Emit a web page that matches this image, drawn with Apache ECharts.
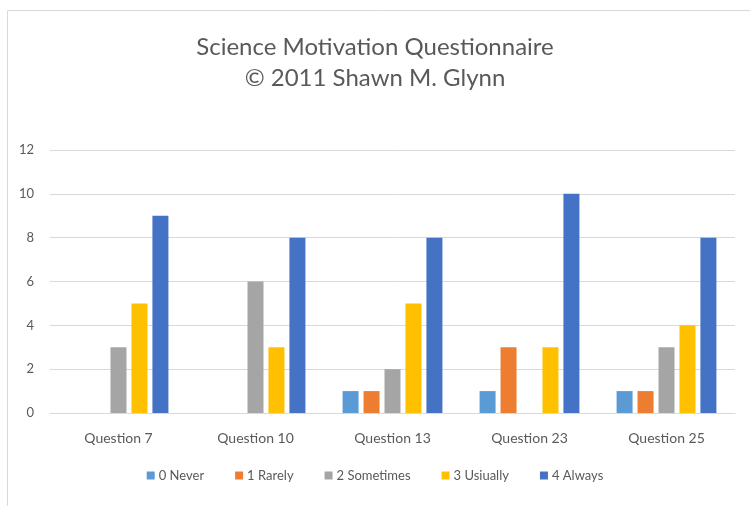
<!DOCTYPE html>
<html>
<head>
<meta charset="utf-8">
<script src="https://cdn.jsdelivr.net/npm/echarts@6/dist/echarts.min.js"></script>
<style>
html,body{margin:0;padding:0;background:#fff;}
#chart{width:750px;height:506px;}
</style>
</head>
<body>
<div id="chart"></div>
<script>
const categories = ['Question 7', 'Question 10', 'Question 13', 'Question 23', 'Question 25'];
const seriesNames = ['0 Never', '1 Rarely', '2 Sometimes', '3 Usiually', '4 Always'];
const never = [0, 0, 1, 1, 1];
const rarely = [0, 0, 1, 3, 1];
const sometimes = [3, 6, 2, 0, 3];
const usually = [5, 3, 5, 3, 4];
const always = [9, 8, 8, 10, 8];
const yTicks = [0, 2, 4, 6, 8, 10, 12];

const colors = ['#5B9BD5', '#ED7D31', '#A5A5A5', '#FFC000', '#4472C4'];
const values = [never, rarely, sometimes, usually, always];
const font = 'Lato, "Open Sans", sans-serif';

const chart = echarts.init(document.getElementById('chart'));
chart.setOption({
  animation: false,
  color: colors,
  graphic: [{
    type: 'rect', left: 5, top: 8,
    shape: { width: 760, height: 520 },
    style: { fill: 'none', stroke: '#d9d9d9', lineWidth: 1 }
  }],
  title: {
    text: 'Science Motivation Questionnaire\n© 2011 Shawn M. Glynn',
    left: 'center', top: 27,
    textStyle: { color: '#595959', fontSize: 24, fontWeight: 'normal', fontFamily: font, lineHeight: 31 }
  },
  legend: {
    bottom: 19, left: 'center',
    itemWidth: 8, itemHeight: 8, itemGap: 31,
    icon: 'rect',
    textStyle: { color: '#595959', fontSize: 13, fontFamily: font, padding: [0, 0, 0, -1] },
    data: seriesNames
  },
  grid: { left: 50, right: 15, top: 150, bottom: 93, containLabel: false },
  xAxis: {
    type: 'category', data: categories,
    axisLine: { lineStyle: { color: '#d9d9d9' } },
    axisTick: { show: false },
    axisLabel: { color: '#595959', fontSize: 14, fontFamily: font, margin: 18 }
  },
  yAxis: {
    type: 'value', min: yTicks[0], max: yTicks[yTicks.length - 1], interval: 2,
    axisLine: { show: false }, axisTick: { show: false },
    splitLine: { lineStyle: { color: '#d9d9d9' } },
    axisLabel: { color: '#595959', fontSize: 13, fontFamily: font, margin: 16 }
  },
  series: seriesNames.map((n, i) => ({
    name: n, type: 'bar', data: values[i],
    barWidth: 16, barGap: '31%'
  }))
});
</script>
</body>
</html>
